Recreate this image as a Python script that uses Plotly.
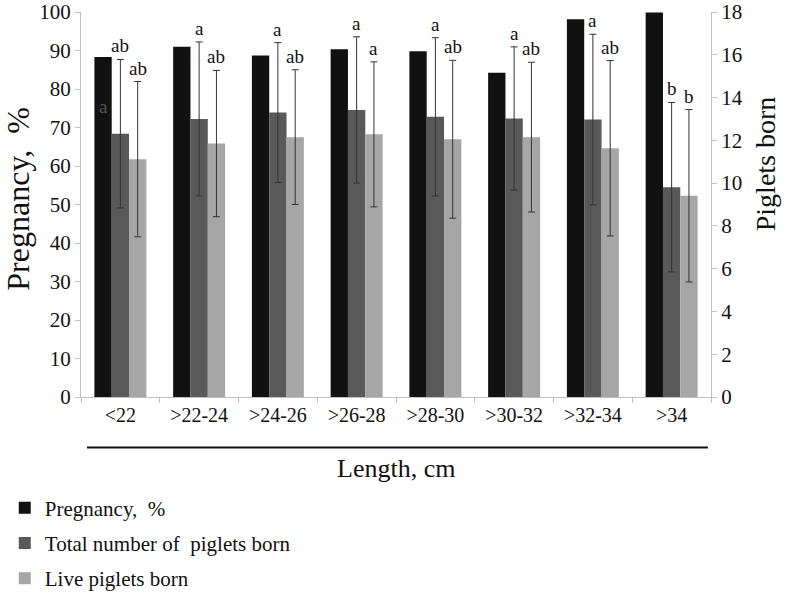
import plotly.graph_objects as go

# length classes (cm)
categories = ['<22', '>22-24', '>24-26', '>26-28', '>28-30', '>30-32', '>32-34', '>34']

# pregnancy rate, % (left axis)
pregnancy = [88.3, 91.0, 88.7, 90.3, 89.8, 84.2, 98.1, 99.9]

# piglets born (right axis), means and SD
total_born = [12.31, 13.0, 13.3, 13.42, 13.1, 13.02, 12.97, 9.81]
total_sd = [3.47, 3.6, 3.27, 3.42, 3.7, 3.35, 3.99, 3.96]
live_born = [11.12, 11.85, 12.15, 12.28, 12.05, 12.15, 11.63, 9.41]
live_sd = [3.63, 3.42, 3.15, 3.39, 3.69, 3.5, 4.1, 4.03]

# significance letters
total_letters = ['ab', 'a', 'a', 'a', 'a', 'a', 'a', 'b']
live_letters = ['ab', 'ab', 'ab', 'a', 'ab', 'ab', 'ab', 'b']

FONT = 'Liberation Serif'
AX = '#bfbfbf'
INK = '#111111'

fig = go.Figure()
fig.add_trace(go.Bar(
    x=categories, y=pregnancy, name='Pregnancy,&nbsp;&nbsp;%',
    marker=dict(color='#111111', line=dict(width=0)),
    offsetgroup='1', legendgroup='1',
))
fig.add_trace(go.Bar(
    x=categories, y=total_born, name='Total number of&nbsp;&nbsp;piglets born',
    marker=dict(color='#595959', line=dict(width=0)),
    error_y=dict(type='data', array=total_sd, color='#333333', thickness=1, width=3.5),
    yaxis='y2', offsetgroup='2', legendgroup='2',
))
fig.add_trace(go.Bar(
    x=categories, y=live_born, name='Live piglets born',
    marker=dict(color='#a6a6a6', line=dict(width=0)),
    error_y=dict(type='data', array=live_sd, color='#333333', thickness=1, width=3.5),
    yaxis='y2', offsetgroup='3', legendgroup='3',
))

bargap = 0.34
bw = (1 - bargap) / 3
annotations = []
for i in range(len(categories)):
    annotations.append(dict(
        x=i, y=total_born[i] + total_sd[i], xref='x', yref='y2',
        text=total_letters[i], showarrow=False, yanchor='bottom', yshift=1,
        font=dict(family=FONT, size=19, color=INK),
    ))
    annotations.append(dict(
        x=i + bw, y=live_born[i] + live_sd[i], xref='x', yref='y2',
        text=live_letters[i], showarrow=False, yanchor='bottom', yshift=1,
        font=dict(family=FONT, size=19, color=INK),
    ))
# stray letter drawn inside the first black bar
annotations.append(dict(
    x=-bw, y=75.5, xref='x', yref='y', text='a', showarrow=False,
    font=dict(family=FONT, size=19, color='#555555'),
))
# axis titles
annotations.append(dict(
    x=0.5, y=-0.187, xref='paper', yref='paper', text='Length, cm',
    showarrow=False, yanchor='middle',
    font=dict(family=FONT, size=26, color=INK),
))
annotations.append(dict(
    x=-0.1, y=0.515, xref='paper', yref='paper', text='Pregnancy,&nbsp;&nbsp;%',
    showarrow=False, textangle=-90, xanchor='center', yanchor='middle',
    font=dict(family=FONT, size=32, color=INK),
))
annotations.append(dict(
    x=1.086, y=0.605, xref='paper', yref='paper', text='Piglets born',
    showarrow=False, textangle=-90, xanchor='center', yanchor='middle',
    font=dict(family=FONT, size=28, color=INK),
))

fig.update_layout(
    width=787, height=592,
    margin=dict(l=81, r=76, t=12, b=195, autoexpand=False),
    paper_bgcolor='white', plot_bgcolor='white',
    font=dict(family=FONT, size=19, color=INK),
    barmode='group', bargap=bargap, bargroupgap=0,
    showlegend=True,
    legend=dict(
        x=-0.121, y=-0.235, xanchor='left', yanchor='top',
        orientation='v', tracegroupgap=5,
        font=dict(family=FONT, size=21, color=INK),
    ),
    annotations=annotations,
    shapes=[dict(
        type='line', xref='paper', yref='paper',
        x0=0.0095, x1=0.995, y0=-0.131, y1=-0.131,
        line=dict(color=INK, width=2),
    )],
    xaxis=dict(
        automargin=False,
        showline=True, linecolor=AX, linewidth=1,
        ticks='outside', tickson='boundaries', ticklen=5, tickcolor=AX,
        showgrid=False, tickfont=dict(size=20),
    ),
    yaxis=dict(
        automargin=False, ticklabeloverflow='allow',
        range=[0, 100], dtick=10, showline=True, linecolor=AX, linewidth=1,
        ticks='outside', ticklen=5, tickcolor=AX, showgrid=False, zeroline=False,
        tickfont=dict(size=21),
    ),
    yaxis2=dict(
        automargin=False, ticklabeloverflow='allow',
        range=[0, 18], dtick=2, overlaying='y', side='right',
        showline=True, linecolor=AX, linewidth=1,
        ticks='outside', ticklen=5, tickcolor=AX, showgrid=False, zeroline=False,
        tickfont=dict(size=21),
    ),
)

# drop the default body margin so the figure sits at the page corner
fig.write_html(
    'out.html',
    config={'displayModeBar': False},
    post_script="document.body.style.margin='0px';",
)
